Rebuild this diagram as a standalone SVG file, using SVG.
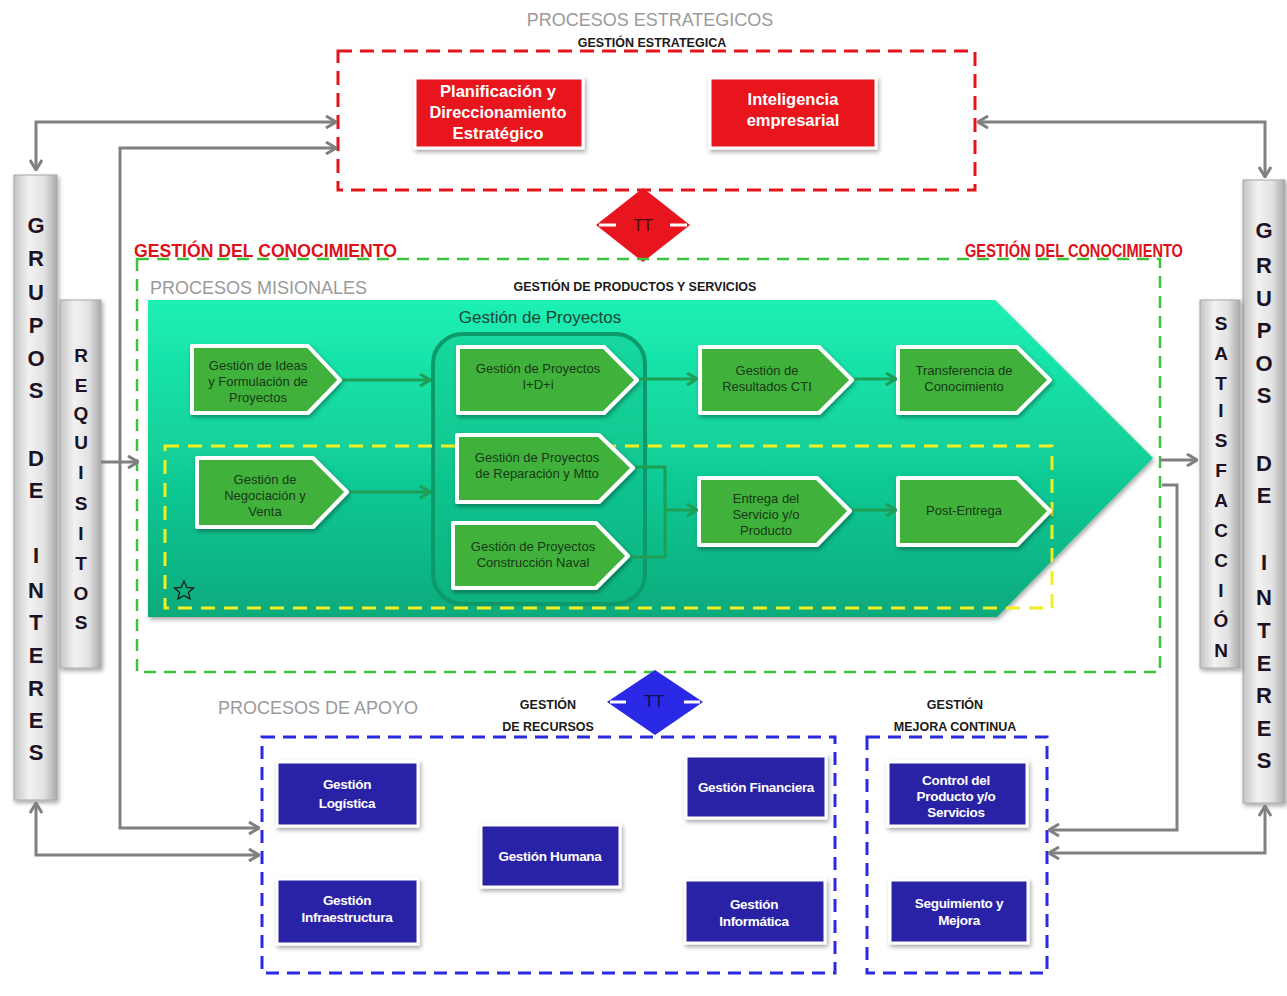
<svg xmlns="http://www.w3.org/2000/svg" width="1287" height="996" viewBox="0 0 1287 996">
<defs>
<style>
.sec{font-family:"Liberation Sans",Arial,sans-serif;font-size:18px;fill:#9a9a9a;}
.sub{font-family:"Liberation Sans",Arial,sans-serif;font-size:12.5px;fill:#1a1a1a;font-weight:bold;text-anchor:middle;}
.red{fill:#e8141e;stroke:#ffffff;stroke-width:3;}
.blue{fill:#2c22a6;stroke:#ffffff;stroke-width:3;}
.gbox{fill:#3fb23a;stroke:#ffffff;stroke-width:4;stroke-linejoin:round;}
.wt{font-family:"Liberation Sans",Arial,sans-serif;font-weight:bold;fill:#ffffff;text-anchor:middle;}
.bt{font-size:13.5px;letter-spacing:-0.3px;}
.gt{font-family:"Liberation Sans",Arial,sans-serif;font-size:13px;fill:#183818;text-anchor:middle;}
.gc{font-family:"Liberation Sans",Arial,sans-serif;font-weight:bold;font-size:18px;fill:#e0101a;}
.bar{stroke:#a8a8a8;stroke-width:1;}
.lt{font-family:"Liberation Sans",Arial,sans-serif;font-weight:bold;font-size:22px;fill:#1c1224;text-anchor:middle;}
.lt2{font-family:"Liberation Sans",Arial,sans-serif;font-weight:bold;font-size:19px;fill:#1c1224;text-anchor:middle;}
.gray{fill:none;stroke:#808080;stroke-width:3;}
.grn{fill:none;stroke:#1f9e55;stroke-width:3;}
</style>
<linearGradient id="teal" x1="0" y1="0" x2="0" y2="1">
<stop offset="0" stop-color="#1df0b4"/>
<stop offset="0.5" stop-color="#12cf98"/>
<stop offset="1" stop-color="#07aa7c"/>
</linearGradient>
<linearGradient id="barg" x1="0" y1="0" x2="1" y2="0">
<stop offset="0" stop-color="#c4c4c4"/>
<stop offset="0.35" stop-color="#f2f2f2"/>
<stop offset="0.7" stop-color="#e2e2e2"/>
<stop offset="1" stop-color="#a9a9a9"/>
</linearGradient>
<filter id="sh" x="-10%" y="-10%" width="130%" height="130%">
<feDropShadow dx="1.5" dy="2.5" stdDeviation="2" flood-color="#000" flood-opacity="0.35"/>
</filter>
<marker id="ag" viewBox="0 0 12 14" refX="11" refY="7" markerWidth="12" markerHeight="14" markerUnits="userSpaceOnUse" orient="auto-start-reverse">
<path d="M1,1 L11,7 L1,13" fill="none" stroke="#808080" stroke-width="3"/>
</marker>
<marker id="agr" viewBox="0 0 12 14" refX="11" refY="7" markerWidth="12" markerHeight="14" markerUnits="userSpaceOnUse" orient="auto-start-reverse">
<path d="M1,1 L11,7 L1,13" fill="none" stroke="#1f9e55" stroke-width="3"/>
</marker>
</defs>
<rect width="1287" height="996" fill="#ffffff"/>

<!-- Strategic -->
<g id="estrategicos">
<text class="sec" x="650" y="26" text-anchor="middle">PROCESOS ESTRATEGICOS</text>
<text class="sub" x="652" y="47">GESTIÓN ESTRATEGICA</text>
<rect x="338" y="51" width="637" height="139" fill="none" stroke="#e3141c" stroke-width="3" stroke-dasharray="14 8"/>
</g>
<g id="planificacion">
<rect class="red" x="415" y="78" width="168" height="70" filter="url(#sh)"/>
<text class="wt" font-size="16.5" x="498" y="97" textLength="116" lengthAdjust="spacingAndGlyphs">Planificación y</text>
<text class="wt" font-size="16.5" x="498" y="118" textLength="137" lengthAdjust="spacingAndGlyphs">Direccionamiento</text>
<text class="wt" font-size="16.5" x="498" y="139" textLength="91" lengthAdjust="spacingAndGlyphs">Estratégico</text>
</g>
<g id="inteligencia">
<rect class="red" x="710" y="78" width="166" height="70" filter="url(#sh)"/>
<text class="wt" font-size="16.5" x="793" y="105">Inteligencia</text>
<text class="wt" font-size="16.5" x="793" y="126">empresarial</text>
</g>
<g id="tt-rojo">
<polygon points="643,188 690,225 643,262 596,225" fill="#e8141e"/>
<line x1="599" y1="225" x2="616" y2="225" stroke="#ffffff" stroke-width="3"/>
<line x1="670" y1="225" x2="687" y2="225" stroke="#ffffff" stroke-width="3"/>
<text x="643" y="231" text-anchor="middle" font-family="Liberation Sans,Arial,sans-serif" font-size="16" fill="#4a0808">TT</text>
</g>

<!-- Misionales -->
<g id="misionales">
<text class="gc" x="134" y="257" textLength="263" lengthAdjust="spacingAndGlyphs">GESTIÓN DEL CONOCIMIENTO</text>
<text class="gc" x="965" y="257" textLength="218" lengthAdjust="spacingAndGlyphs">GESTIÓN DEL CONOCIMIENTO</text>
<rect x="137" y="259" width="1023" height="413" fill="none" stroke="#3cc23c" stroke-width="2.5" stroke-dasharray="12 8"/>
<text class="sec" x="150" y="294">PROCESOS MISIONALES</text>
<text class="sub" x="635" y="291">GESTIÓN DE PRODUCTOS Y SERVICIOS</text>
<polygon points="148,300 995,300 1153,458 997,617 148,617" fill="url(#teal)" filter="url(#sh)"/>
<text x="540" y="323" text-anchor="middle" font-family="Liberation Sans,Arial,sans-serif" font-size="17" fill="#1b4632">Gestión de Proyectos</text>
<rect x="433" y="334" width="212" height="270" rx="30" fill="#0fb985" fill-opacity="0.35" stroke="#0c9a6a" stroke-width="4"/>
<rect x="165" y="446" width="887" height="162" fill="none" stroke="#f2ee22" stroke-width="3" stroke-dasharray="14 9"/>
<path d="M184,581 L186.8,587.5 L193.5,588 L188.4,592.4 L190,599 L184,595.4 L178,599 L179.6,592.4 L174.5,588 L181.2,587.5 Z" fill="none" stroke="#1a1a1a" stroke-width="1.3"/>
</g>

<g id="ideas">
<path class="gbox" d="M192,346 L308,346 L340,380 L308,413 L192,413 Z" filter="url(#sh)"/>
<text class="gt" x="258" y="370">Gestión de Ideas</text>
<text class="gt" x="258" y="386">y Formulación de</text>
<text class="gt" x="258" y="402">Proyectos</text>
</g>
<g id="negociacion">
<path class="gbox" d="M197,458 L313,458 L347,492 L313,527 L197,527 Z" filter="url(#sh)"/>
<text class="gt" x="265" y="484">Gestión de</text>
<text class="gt" x="265" y="500">Negociación y</text>
<text class="gt" x="265" y="516">Venta</text>
</g>
<g id="idi">
<path class="gbox" d="M458,347 L604,347 L637,380 L604,413 L458,413 Z" filter="url(#sh)"/>
<text class="gt" x="538" y="373">Gestión de Proyectos</text>
<text class="gt" x="538" y="389">I+D+i</text>
</g>
<g id="reparacion">
<path class="gbox" d="M457,435 L599,435 L633,468 L599,502 L457,502 Z" filter="url(#sh)"/>
<text class="gt" x="537" y="462">Gestión de Proyectos</text>
<text class="gt" x="537" y="478">de Reparación y Mtto</text>
</g>
<g id="construccion">
<path class="gbox" d="M453,523 L596,523 L628,556 L596,588 L453,588 Z" filter="url(#sh)"/>
<text class="gt" x="533" y="551">Gestión de Proyectos</text>
<text class="gt" x="533" y="567">Construcción Naval</text>
</g>
<g id="resultados">
<path class="gbox" d="M700,347 L819,347 L852,380 L819,413 L700,413 Z" filter="url(#sh)"/>
<text class="gt" x="767" y="375">Gestión de</text>
<text class="gt" x="767" y="391">Resultados CTI</text>
</g>
<g id="transferencia">
<path class="gbox" d="M898,347 L1017,347 L1050,380 L1017,413 L898,413 Z" filter="url(#sh)"/>
<text class="gt" x="964" y="375">Transferencia de</text>
<text class="gt" x="964" y="391">Conocimiento</text>
</g>
<g id="entrega">
<path class="gbox" d="M699,478 L817,478 L850,511 L817,545 L699,545 Z" filter="url(#sh)"/>
<text class="gt" x="766" y="503">Entrega del</text>
<text class="gt" x="766" y="519">Servicio y/o</text>
<text class="gt" x="766" y="535">Producto</text>
</g>
<g id="postentrega">
<path class="gbox" d="M898,478 L1017,478 L1050,511 L1017,545 L898,545 Z" filter="url(#sh)"/>
<text class="gt" x="964" y="515">Post-Entrega</text>
</g>

<!-- side bars -->
<g id="grupos-izq">
<rect class="bar" x="14" y="175" width="43" height="625" fill="url(#barg)" filter="url(#sh)"/>
<text class="lt" x="36" y="233">G</text>
<text class="lt" x="36" y="266">R</text>
<text class="lt" x="36" y="300">U</text>
<text class="lt" x="36" y="333">P</text>
<text class="lt" x="36" y="366">O</text>
<text class="lt" x="36" y="398">S</text>
<text class="lt" x="36" y="466">D</text>
<text class="lt" x="36" y="498">E</text>
<text class="lt" x="36" y="563">I</text>
<text class="lt" x="36" y="598">N</text>
<text class="lt" x="36" y="630">T</text>
<text class="lt" x="36" y="663">E</text>
<text class="lt" x="36" y="696">R</text>
<text class="lt" x="36" y="728">E</text>
<text class="lt" x="36" y="760">S</text>
</g>
<g id="requisitos">
<rect class="bar" x="60" y="300" width="41" height="368" fill="url(#barg)" filter="url(#sh)"/>
<text class="lt2" x="81" y="362">R</text>
<text class="lt2" x="81" y="392">E</text>
<text class="lt2" x="81" y="420">Q</text>
<text class="lt2" x="81" y="449">U</text>
<text class="lt2" x="81" y="479">I</text>
<text class="lt2" x="81" y="510">S</text>
<text class="lt2" x="81" y="540">I</text>
<text class="lt2" x="81" y="570">T</text>
<text class="lt2" x="81" y="600">O</text>
<text class="lt2" x="81" y="629">S</text>
</g>
<g id="grupos-der">
<rect class="bar" x="1243" y="180" width="42" height="623" fill="url(#barg)" filter="url(#sh)"/>
<text class="lt" x="1264" y="238">G</text>
<text class="lt" x="1264" y="273">R</text>
<text class="lt" x="1264" y="306">U</text>
<text class="lt" x="1264" y="338">P</text>
<text class="lt" x="1264" y="371">O</text>
<text class="lt" x="1264" y="403">S</text>
<text class="lt" x="1264" y="471">D</text>
<text class="lt" x="1264" y="503">E</text>
<text class="lt" x="1264" y="570">I</text>
<text class="lt" x="1264" y="605">N</text>
<text class="lt" x="1264" y="638">T</text>
<text class="lt" x="1264" y="671">E</text>
<text class="lt" x="1264" y="703">R</text>
<text class="lt" x="1264" y="736">E</text>
<text class="lt" x="1264" y="768">S</text>
</g>
<g id="satisfaccion">
<rect class="bar" x="1200" y="300" width="40" height="368" fill="url(#barg)" filter="url(#sh)"/>
<text class="lt2" x="1221" y="330">S</text>
<text class="lt2" x="1221" y="360">A</text>
<text class="lt2" x="1221" y="390">T</text>
<text class="lt2" x="1221" y="417">I</text>
<text class="lt2" x="1221" y="447">S</text>
<text class="lt2" x="1221" y="477">F</text>
<text class="lt2" x="1221" y="507">A</text>
<text class="lt2" x="1221" y="537">C</text>
<text class="lt2" x="1221" y="567">C</text>
<text class="lt2" x="1221" y="597">I</text>
<text class="lt2" x="1221" y="627">Ó</text>
<text class="lt2" x="1221" y="657">N</text>
</g>

<!-- Apoyo -->
<g id="apoyo">
<text class="sec" x="218" y="714">PROCESOS DE APOYO</text>
<text class="sub" x="548" y="709">GESTIÓN</text>
<text class="sub" x="548" y="731">DE RECURSOS</text>
<text class="sub" x="955" y="709">GESTIÓN</text>
<text class="sub" x="955" y="731">MEJORA CONTINUA</text>
<rect x="262" y="737" width="573" height="236" fill="none" stroke="#2a2ae0" stroke-width="3" stroke-dasharray="13 8"/>
<rect x="867" y="737" width="180" height="236" fill="none" stroke="#2a2ae0" stroke-width="3" stroke-dasharray="13 8"/>
</g>
<g id="tt-azul">
<polygon points="655,670 703,702 655,735 607,702" fill="#2a2ae6"/>
<line x1="610" y1="702" x2="626" y2="702" stroke="#ffffff" stroke-width="3"/>
<line x1="684" y1="702" x2="700" y2="702" stroke="#ffffff" stroke-width="3"/>
<text x="654" y="707" text-anchor="middle" font-family="Liberation Sans,Arial,sans-serif" font-size="16" fill="#0c0c50">TT</text>
</g>
<g id="logistica">
<rect class="blue" x="277" y="762" width="141" height="64" filter="url(#sh)"/>
<text class="wt bt" x="347" y="789">Gestión</text>
<text class="wt bt" x="347" y="808">Logística</text>
</g>
<g id="infraestructura">
<rect class="blue" x="277" y="879" width="141" height="65" filter="url(#sh)"/>
<text class="wt bt" x="347" y="905">Gestión</text>
<text class="wt bt" x="347" y="922">Infraestructura</text>
</g>
<g id="humana">
<rect class="blue" x="481" y="825" width="139" height="62" filter="url(#sh)"/>
<text class="wt bt" x="550" y="861">Gestión Humana</text>
</g>
<g id="financiera">
<rect class="blue" x="686" y="756" width="140" height="62" filter="url(#sh)"/>
<text class="wt bt" x="756" y="792">Gestión Financiera</text>
</g>
<g id="informatica">
<rect class="blue" x="685" y="880" width="140" height="63" filter="url(#sh)"/>
<text class="wt bt" x="754" y="909">Gestión</text>
<text class="wt bt" x="754" y="926">Informática</text>
</g>
<g id="control">
<rect class="blue" x="888" y="762" width="139" height="64" filter="url(#sh)"/>
<text class="wt bt" x="956" y="785">Control del</text>
<text class="wt bt" x="956" y="801">Producto y/o</text>
<text class="wt bt" x="956" y="817">Servicios</text>
</g>
<g id="seguimiento">
<rect class="blue" x="890" y="880" width="138" height="63" filter="url(#sh)"/>
<text class="wt bt" x="959" y="908">Seguimiento y</text>
<text class="wt bt" x="959" y="925">Mejora</text>
</g>

<g id="connectors">
<path class="gray" d="M36,170 L36,122 L336,122" marker-start="url(#ag)" marker-end="url(#ag)"/>
<path class="gray" d="M259,828 L120,828 L120,148 L336,148" marker-start="url(#ag)" marker-end="url(#ag)"/>
<path class="gray" d="M36,803 L36,855 L259,855" marker-start="url(#ag)" marker-end="url(#ag)"/>
<path class="gray" d="M101,462 L138,462" marker-end="url(#ag)"/>
<path class="gray" d="M978,122 L1265,122 L1265,177" marker-start="url(#ag)" marker-end="url(#ag)"/>
<path class="gray" d="M1160,460 L1197,460" marker-end="url(#ag)"/>
<path class="gray" d="M1162,485 L1177,485 L1177,830 L1049,830" marker-end="url(#ag)"/>
<path class="gray" d="M1265,806 L1265,853 L1049,853" marker-start="url(#ag)" marker-end="url(#ag)"/>
<path class="grn" d="M342,380 L430,380" marker-end="url(#agr)"/>
<path class="grn" d="M349,492 L430,492" marker-end="url(#agr)"/>
<path class="grn" d="M639,379 L697,379" marker-end="url(#agr)"/>
<path class="grn" d="M854,379 L896,379" marker-end="url(#agr)"/>
<path class="grn" d="M635,467 L665,467 L665,557 L630,557"/>
<path class="grn" d="M665,510 L697,510" marker-end="url(#agr)"/>
<path class="grn" d="M852,510 L896,510" marker-end="url(#agr)"/>
</g>
</svg>
